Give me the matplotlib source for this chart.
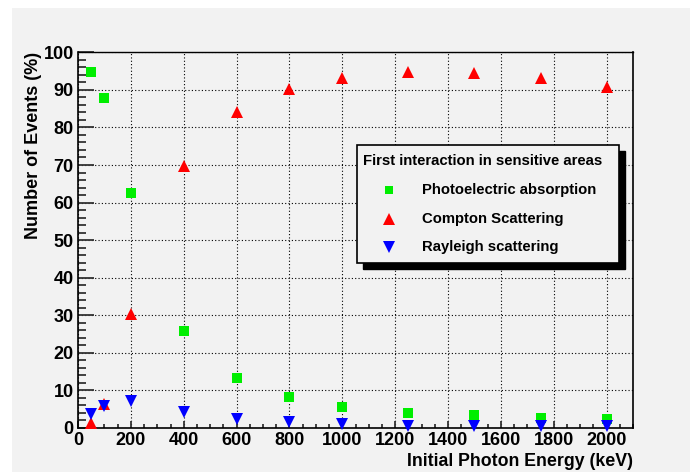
import matplotlib
matplotlib.use("Agg")
import matplotlib.pyplot as plt
from matplotlib.patches import Rectangle
from matplotlib.lines import Line2D
from matplotlib.ticker import MultipleLocator

energy = [50, 100, 200, 400, 600, 800, 1000, 1250, 1500, 1750, 2000]
photoelectric = [94.7, 87.8, 62.6, 25.9, 13.2, 8.2, 5.7, 4.1, 3.4, 2.7, 2.5]
compton = [1.3, 6.4, 30.3, 69.8, 84.2, 90.2, 93.1, 94.7, 94.4, 93.1, 90.7]
rayleigh = [3.7, 5.9, 7.2, 4.3, 2.4, 1.6, 1.1, 0.5, 0.4, 0.4, 0.4]

legend_title = "First interaction in sensitive areas"
labels = ["Photoelectric absorption", "Compton Scattering", "Rayleigh scattering"]
colors = ["#00ee00", "#ff0000", "#0000ff"]
markers = ["s", "^", "v"]
msizes = [6.5, 8.5, 8.5]

plt.rcParams['font.family'] = ['Liberation Sans', 'DejaVu Sans']
plt.rcParams['font.weight'] = 'bold'

W, H = 690, 472
fig = plt.figure(figsize=(W / 100, H / 100), dpi=100)
fig.patch.set_facecolor('white')

def fx(px):
    return px / W

def fy(py):
    return 1 - py / H

# grey pad
fig.add_artist(Rectangle((fx(12), 0), 1 - fx(12), fy(8), transform=fig.transFigure,
                         facecolor='#f2f2f2', edgecolor='none', zorder=-10))

ax = fig.add_axes([fx(78), fy(428), fx(633) - fx(78), fy(52.3) - fy(428)])
ax.set_facecolor('#f2f2f2')
ax.set_xlim(0, 2100)
ax.set_ylim(0, 100)

ax.xaxis.set_major_locator(MultipleLocator(200))
ax.xaxis.set_minor_locator(MultipleLocator(50))
ax.yaxis.set_major_locator(MultipleLocator(10))
ax.yaxis.set_minor_locator(MultipleLocator(2))
ax.set_xticks([0, 200, 400, 600, 800, 1000, 1200, 1400, 1600, 1800, 2000])

ax.grid(True, which='major', linestyle=(0, (1, 2)), color='black', linewidth=0.8)
ax.tick_params(axis='x', which='major', direction='in', length=5, width=1.3,
               labelsize=13, pad=3, color='#333333')
ax.tick_params(axis='x', which='minor', direction='in', length=3, width=1.3, color='#333333')
ax.tick_params(axis='y', which='major', direction='in', length=11.5, width=1.3,
               labelsize=13, pad=3, color='#333333')
ax.tick_params(axis='y', which='minor', direction='in', length=5.5, width=1.3, color='#333333')
for lab in ax.get_xticklabels() + ax.get_yticklabels():
    lab.set_fontweight('bold')
for sp in ax.spines.values():
    sp.set_linewidth(1.2)
ax.spines['top'].set_linewidth(1.0)

series = [photoelectric, compton, rayleigh]
for vals, c, m, ms in zip(series, colors, markers, msizes):
    ax.plot(energy, vals, linestyle='none', marker=m, color=c, markersize=ms,
            markeredgewidth=0, clip_on=False, zorder=3)

ax.set_xlabel("Initial Photon Energy (keV)", fontsize=12.8, fontweight='bold', loc='right',
              labelpad=3)
ax.set_ylabel("Number of Events (%)", fontsize=13, fontweight='bold', loc='top',
              labelpad=1)

# legend box with shadow
lx0, lx1, ly0, ly1 = 357, 619, 145, 263
sh = 6
fig.add_artist(Rectangle((fx(lx0 + sh), fy(ly1 + sh)), fx(lx1) - fx(lx0), fy(ly0) - fy(ly1),
                         transform=fig.transFigure, facecolor='black', edgecolor='black', zorder=5))
fig.add_artist(Rectangle((fx(lx0), fy(ly1)), fx(lx1) - fx(lx0), fy(ly0) - fy(ly1),
                         transform=fig.transFigure, facecolor='#f2f2f2', edgecolor='black',
                         linewidth=1.2, zorder=6))
fig.text(fx(363), fy(161), legend_title, fontsize=10.7, fontweight='bold', va='center',
         ha='left', zorder=7)
for i, (lab, c, m, ms) in enumerate(zip(labels, colors, markers, msizes)):
    yy = [190, 219, 247][i]
    fig.add_artist(Line2D([fx(389)], [fy(yy)], transform=fig.transFigure, marker=m,
                          color=c, markersize=ms - 0.5, markeredgewidth=0, linestyle='none', zorder=7))
    fig.text(fx(422), fy(yy), lab, fontsize=10.7, fontweight='bold', va='center', ha='left',
             zorder=7)

fig.savefig("out.png", dpi=100, facecolor=fig.get_facecolor())
